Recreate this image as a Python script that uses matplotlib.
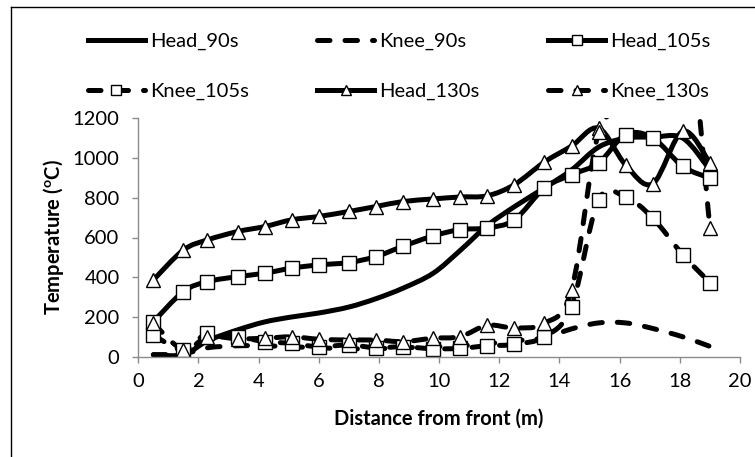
import numpy as np
import matplotlib
matplotlib.use("Agg")
import matplotlib.pyplot as plt
from matplotlib.path import Path
from matplotlib.patches import PathPatch
from matplotlib.lines import Line2D

plt.rcParams['font.family'] = ['Lato', 'DejaVu Sans']
plt.rcParams['mathtext.fontset'] = 'custom'
plt.rcParams['mathtext.rm'] = 'Lato'
plt.rcParams['mathtext.bf'] = 'Lato:bold'

# distance from front (m)
distance = [0.5, 1.5, 2.3, 3.3, 4.2, 5.1, 6.0, 7.0, 7.9, 8.8, 9.8,
            10.7, 11.6, 12.5, 13.5, 14.4, 15.3, 16.2, 17.1, 18.1, 19.0]

# temperatures (degC)
head_90 = [10, 10, 80, 135, 175, 200, 220, 250, 292, 345, 420,
           535, 660, 755, 850, 940, 1055, 1100, 1105, 1100, 940]
knee_90 = [10, 15, 45, 55, 55, 50, 45, 40, 40, 45, 50,
           55, 65, 80, 95, 140, 170, 170, 142, 100, 52]
head_105 = [176, 328, 378, 403, 420, 446, 462, 474, 504, 556, 608,
            640, 648, 689, 849, 916, 975, 1118, 1101, 958, 899]
knee_105 = [109, 34, 118, 101, 76, 67, 50, 59, 45, 50, 40,
            42, 55, 62, 101, 252, 790, 803, 698, 513, 373]
head_130 = [386, 537, 588, 630, 655, 689, 706, 731, 756, 781, 794,
            804, 810, 866, 980, 1060, 1150, 965, 871, 1135, 975]
knee_130 = [168, 35, 100, 90, 93, 100, 88, 84, 84, 76, 93,
            101, 158, 145, 168, 336, 1130, 1260, 1700, 1900, 650]

xticks = [0, 2, 4, 6, 8, 10, 12, 14, 16, 18, 20]
yticks = [0, 200, 400, 600, 800, 1000, 1200]

FS = 14.5
LW = 3.6
DASH = (0, (2.5, 3.0))


# Excel style smoothed line as a bezier path through the data points
def smooth_path(xs, ys):
    pts = np.column_stack([xs, ys]).astype(float)
    n = len(pts)
    verts = [pts[0]]
    codes = [Path.MOVETO]
    for i in range(n - 1):
        p0 = pts[max(i - 1, 0)]
        p1 = pts[i]
        p2 = pts[i + 1]
        p3 = pts[min(i + 2, n - 1)]
        verts += [p1 + (p2 - p0) / 6, p2 - (p3 - p1) / 6, p2]
        codes += [Path.CURVE4] * 3
    return Path(verts, codes)


def draw_series(ax, ys, dashed, marker):
    ls = DASH if dashed else '-'
    patch = PathPatch(smooth_path(distance, ys), fill=False, edgecolor='black',
                      linewidth=LW, linestyle=ls, capstyle='round', joinstyle='round')
    ax.add_patch(patch)
    if marker is not None:
        ax.plot(distance, ys, linestyle='none', marker=marker, markersize=9.5,
                markerfacecolor='white', markeredgecolor='black', markeredgewidth=1.0)


fig = plt.figure(figsize=(7.55, 4.57), dpi=100)
ax = fig.add_axes([138.3 / 755, 1 - 356.7 / 457, (740 - 138.3) / 755, (356.7 - 118.3) / 457])

draw_series(ax, head_90, False, None)
draw_series(ax, knee_90, True, None)
draw_series(ax, head_105, False, 's')
draw_series(ax, knee_105, True, 's')
draw_series(ax, head_130, False, '^')
draw_series(ax, knee_130, True, '^')

ax.set_xlim(0, 20)
ax.set_ylim(0, 1200)
ax.set_xticks(xticks)
ax.set_yticks(yticks)
for side in ['top', 'right']:
    ax.spines[side].set_visible(False)
for side in ['left', 'bottom']:
    ax.spines[side].set_color('#8c8c8c')
    ax.spines[side].set_linewidth(1.0)
ax.tick_params(axis='both', direction='out', length=4.5, width=1.0, color='#8c8c8c',
               labelsize=FS, labelcolor='black')
ax.tick_params(axis='y', pad=9)
ax.tick_params(axis='x', pad=7)
ax.set_xlabel('Distance from front (m)', fontsize=FS, fontweight='bold', labelpad=14)
ax.set_ylabel(r'Temperature ($\mathbf{^{o}}$C)', fontsize=FS, fontweight='bold', labelpad=5)

# legend (row-wise order like Excel)
def handle(dashed, marker):
    return Line2D([], [], color='black', linewidth=LW, linestyle=DASH if dashed else '-',
                  dash_capstyle='round', marker=marker, markersize=7.5,
                  markerfacecolor='white', markeredgecolor='black', markeredgewidth=1.0)

handles = [handle(False, None), handle(True, 's'), handle(True, None),
           handle(False, '^'), handle(False, 's'), handle(True, '^')]
labels = ['Head_90s', 'Knee_105s', 'Knee_90s', 'Head_130s', 'Head_105s', 'Knee_130s']
fig.legend(handles, labels, ncol=3, loc='upper left', bbox_to_anchor=(88 / 755, 1 - 33 / 457),
           frameon=False, fontsize=FS, handlelength=2.83, handletextpad=0.25,
           columnspacing=3.4, labelspacing=1.6, borderpad=0, borderaxespad=0)

# chart area border
fig.add_artist(Line2D([11 / 755, 11 / 755], [0, 1 - 7 / 457], transform=fig.transFigure,
                      color='black', linewidth=1.0))
fig.add_artist(Line2D([11 / 755, 1], [1 - 7 / 457, 1 - 7 / 457], transform=fig.transFigure,
                      color='black', linewidth=1.0))

fig.savefig('out.png', dpi=100)
